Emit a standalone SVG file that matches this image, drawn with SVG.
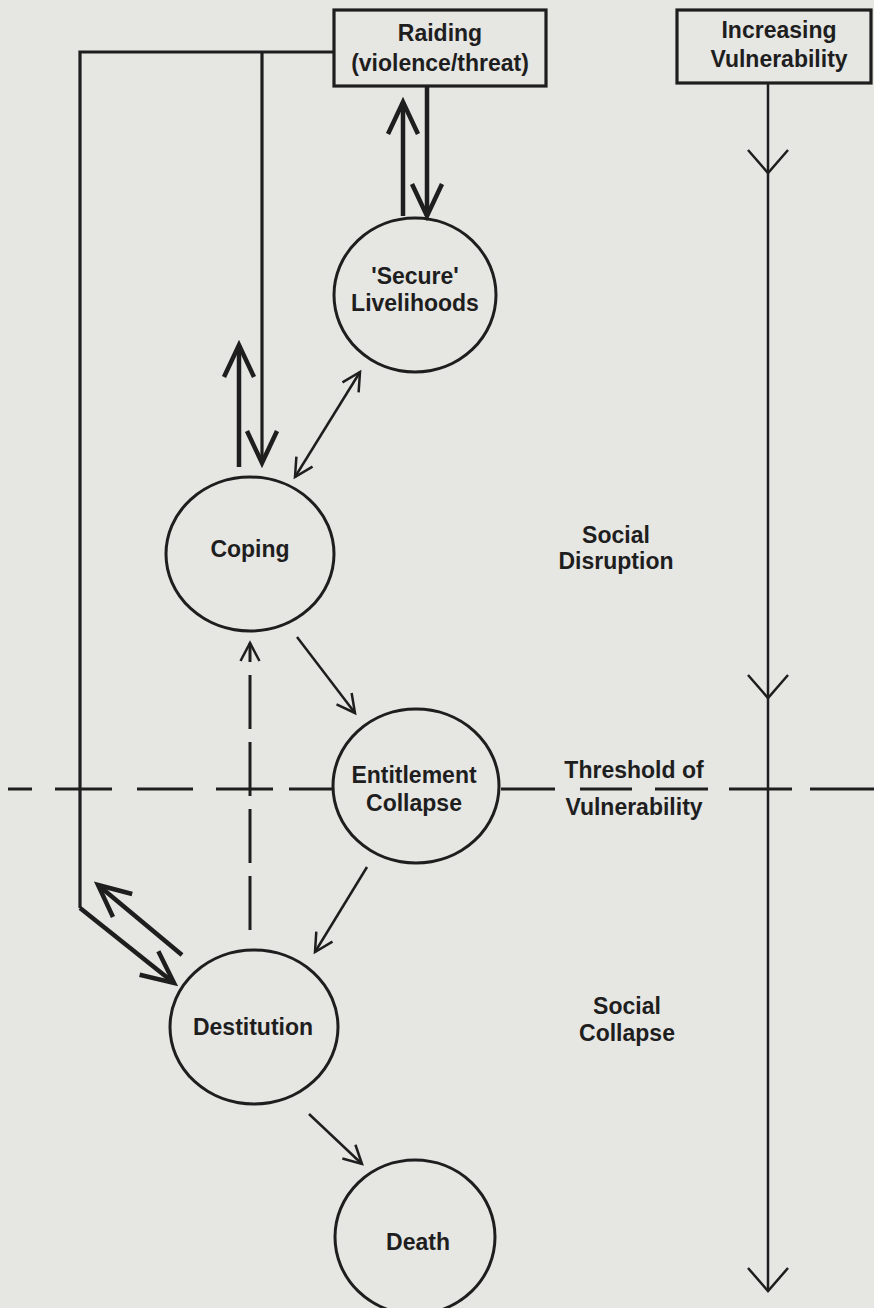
<svg xmlns="http://www.w3.org/2000/svg" width="874" height="1308" viewBox="0 0 874 1308">
<style>
  .bg{fill:#e6e6e3}
  .box{fill:none;stroke:#1e1e1e;stroke-width:3.2}
  .node{fill:none;stroke:#1e1e1e;stroke-width:3}
  .lbl{font-family:"Liberation Sans",Arial,Helvetica,sans-serif;font-weight:bold;font-size:23px;fill:#1e1e1e;text-anchor:middle}
  .thick{fill:none;stroke:#1e1e1e;stroke-width:4.5}
  .line{fill:none;stroke:#1e1e1e;stroke-width:3.2}
  .thin{fill:none;stroke:#1e1e1e;stroke-width:2.5}
  .dash{fill:none;stroke:#1e1e1e;stroke-width:3;stroke-dasharray:54 13}
</style>
<defs>
  <marker id="mThin" markerUnits="userSpaceOnUse" markerWidth="30" markerHeight="30" refX="22" refY="15" orient="auto-start-reverse">
    <path d="M4,5.5 L22,15 L4,24.5" fill="none" stroke="#1e1e1e" stroke-width="2.5"/>
  </marker>
  <marker id="mThick" markerUnits="userSpaceOnUse" markerWidth="48" markerHeight="44" refX="38" refY="22" orient="auto-start-reverse">
    <path d="M6,7 L38,22 L6,37" fill="none" stroke="#1e1e1e" stroke-width="4.5"/>
  </marker>
  <marker id="mVee" markerUnits="userSpaceOnUse" markerWidth="34" markerHeight="48" refX="27" refY="24" orient="auto">
    <path d="M4,4 L27,24 L4,44" fill="none" stroke="#1e1e1e" stroke-width="2.5"/>
  </marker>
</defs>
<rect class="bg" x="0" y="0" width="874" height="1308"/>

<g id="connectors">
  <!-- raiding feedback bus -->
  <path class="line" d="M334,52 L80,52 L80,908"/>
  <path class="thick" d="M80,908 L174,983" marker-end="url(#mThick)"/>
  <path class="line" d="M262,52 L262,463" marker-end="url(#mThick)"/>
  <path class="thick" d="M239,467 L239,345" marker-end="url(#mThick)"/>
  <!-- raiding <-> secure -->
  <path class="thick" d="M403,216 L403,102" marker-end="url(#mThick)"/>
  <path class="thick" d="M427,86 L427,216" marker-end="url(#mThick)"/>
  <!-- secure <-> coping -->
  <path class="thin" d="M295,477 L360,372" marker-start="url(#mThin)" marker-end="url(#mThin)"/>
  <!-- coping -> entitlement -->
  <path class="thin" d="M297,637 L355,713" marker-end="url(#mThin)"/>
  <!-- dashed up to coping -->
  <path class="dash" d="M250,930 L250,643" marker-end="url(#mThin)"/>
  <!-- entitlement -> destitution -->
  <path class="thin" d="M367,867 L315,952" marker-end="url(#mThin)"/>
  <!-- destitution -> raiding line -->
  <path class="thick" d="M182,955 L98,885" marker-end="url(#mThick)"/>
  <!-- destitution -> death -->
  <path class="thin" d="M309,1114 L362,1164" marker-end="url(#mThin)"/>
  <!-- increasing vulnerability axis -->
  <path class="thin" d="M768,84 L768,173 L768,698 L768,1291" marker-mid="url(#mVee)" marker-end="url(#mVee)"/>
  <!-- threshold of vulnerability -->
  <path class="line" d="M8,789 H32 M55,789 H112 M137,789 H193 M216,789 H273 M289,789 H333 M501,789 H555 M580,789 H632 M655,789 H708 M729,789 H792 M810,789 H874"/>
</g>

<g id="raiding">
  <rect class="box" x="334" y="10" width="212" height="76"/>
  <text class="lbl" x="440" y="41">Raiding</text>
  <text class="lbl" x="440" y="71">(violence/threat)</text>
</g>
<g id="increasing-vulnerability">
  <rect class="box" x="677" y="10" width="194" height="73"/>
  <text class="lbl" x="779" y="38">Increasing</text>
  <text class="lbl" x="779" y="67">Vulnerability</text>
</g>
<g id="secure">
  <ellipse class="node" cx="415" cy="295" rx="81" ry="77"/>
  <text class="lbl" x="415" y="284">'Secure'</text>
  <text class="lbl" x="415" y="311">Livelihoods</text>
</g>
<g id="coping">
  <ellipse class="node" cx="250" cy="554" rx="84" ry="77"/>
  <text class="lbl" x="250" y="557">Coping</text>
</g>
<g id="entitlement">
  <ellipse class="node" cx="416" cy="786" rx="83" ry="77"/>
  <text class="lbl" x="414" y="783">Entitlement</text>
  <text class="lbl" x="414" y="811">Collapse</text>
</g>
<g id="destitution">
  <ellipse class="node" cx="254" cy="1027" rx="84" ry="77"/>
  <text class="lbl" x="253" y="1035">Destitution</text>
</g>
<g id="death">
  <ellipse class="node" cx="415" cy="1237" rx="80" ry="77"/>
  <text class="lbl" x="418" y="1250">Death</text>
</g>
<g id="social-disruption">
  <text class="lbl" x="616" y="543">Social</text>
  <text class="lbl" x="616" y="569">Disruption</text>
</g>
<g id="threshold">
  <text class="lbl" x="634" y="778">Threshold of</text>
  <text class="lbl" x="634" y="815">Vulnerability</text>
</g>
<g id="social-collapse">
  <text class="lbl" x="627" y="1014">Social</text>
  <text class="lbl" x="627" y="1041">Collapse</text>
</g>
</svg>
